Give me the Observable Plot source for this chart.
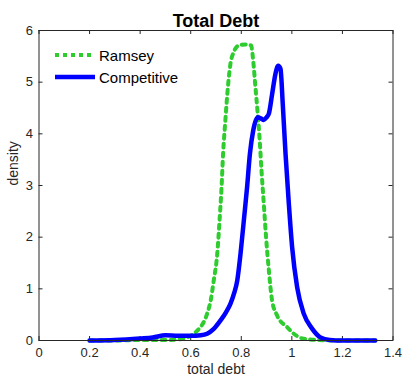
<!DOCTYPE html>
<html>
<head>
<meta charset="utf-8">
<script src="https://cdn.jsdelivr.net/npm/d3@7"></script>
<script src="https://cdn.jsdelivr.net/npm/@observablehq/plot@0.6"></script>
<style>
  html, body { margin: 0; padding: 0; background: #fff; }
  #wrap { position: relative; width: 402px; height: 380px; font-family: "Liberation Sans", Arial, sans-serif; }
  #legend { position: absolute; left: 55px; top: 44px; font-size: 15px; color: #000; }
  .item { display: flex; align-items: center; height: 22px; }
  .item svg { margin-right: 4px; }
</style>
</head>
<body>
<div id="wrap"></div>
<script>
const title = "Total Debt";
const xLabel = "total debt";
const yLabel = "density";
const seriesNames = ["Ramsey", "Competitive"];
const seriesColors = ["#2ecc2e", "#0000ff"];
const xTicks = [0, 0.2, 0.4, 0.6, 0.8, 1, 1.2, 1.4];
const yTicks = [0, 1, 2, 3, 4, 5, 6];

const ramseyX = [0.2, 0.3, 0.4, 0.5, 0.55, 0.58, 0.612, 0.635, 0.652, 0.665, 0.68, 0.691, 0.705, 0.714, 0.722, 0.728, 0.737, 0.747, 0.757, 0.77, 0.79, 0.817, 0.839, 0.847, 0.856, 0.865, 0.872, 0.88, 0.889, 0.898, 0.909, 0.922, 0.942, 0.981, 1.008, 1.041, 1.1, 1.2, 1.33];
const ramseyY = [0, 0, 0.01, 0.01, 0.02, 0.05, 0.13, 0.24, 0.36, 0.52, 0.8, 1.16, 1.68, 2.32, 2.97, 3.61, 4.26, 4.9, 5.35, 5.58, 5.71, 5.73, 5.71, 5.42, 4.9, 4.39, 3.94, 3.29, 2.65, 2.0, 1.36, 0.77, 0.48, 0.26, 0.13, 0.04, 0.01, 0, 0];

const compX = [0.2, 0.3, 0.4, 0.45, 0.5, 0.55, 0.6, 0.64, 0.665, 0.69, 0.718, 0.74, 0.757, 0.772, 0.784, 0.797, 0.81, 0.823, 0.834, 0.847, 0.865, 0.877, 0.889, 0.9, 0.909, 0.922, 0.935, 0.946, 0.955, 0.964, 0.975, 0.988, 1.001, 1.021, 1.047, 1.08, 1.113, 1.15, 1.2, 1.33];
const compY = [0, 0.01, 0.04, 0.06, 0.1, 0.09, 0.09, 0.1, 0.13, 0.22, 0.39, 0.55, 0.71, 0.92, 1.16, 1.68, 2.32, 2.97, 3.61, 4.06, 4.32, 4.3, 4.27, 4.32, 4.39, 4.77, 5.16, 5.32, 5.26, 4.58, 3.61, 2.65, 1.81, 1.03, 0.52, 0.23, 0.06, 0.01, 0, 0];

const ramsey = ramseyX.map((x, i) => ({x, y: ramseyY[i]}));
const comp = compX.map((x, i) => ({x, y: compY[i]}));

const W = 402, H = 380;
const mL = 38.5, mR = 9.5, mT = 30, mB = 40;
const tickLen = 4;
const frameH = H - mT - mB, frameW = W - mL - mR;
const ink = "#262626";

const chart = Plot.plot({
  width: W,
  height: H,
  marginLeft: mL,
  marginRight: mR,
  marginTop: mT,
  marginBottom: mB,
  style: {fontFamily: "'Liberation Sans', Arial, sans-serif", color: ink, background: "#fff"},
  x: {domain: [0, 1.4]},
  y: {domain: [0, 6]},
  marks: [
    Plot.axisX({ticks: xTicks, tickSize: 0, tickPadding: 7, fontSize: 13, tickFormat: d => String(d), label: null}),
    Plot.axisY({ticks: yTicks, tickSize: 0, tickPadding: 6, fontSize: 13, tickFormat: d => String(d), label: null}),
    Plot.tickX(xTicks, {x: d => d, insetTop: frameH - tickLen, stroke: ink}),
    Plot.tickX(xTicks, {x: d => d, insetBottom: frameH - tickLen, stroke: ink}),
    Plot.tickY(yTicks, {y: d => d, insetRight: frameW - tickLen, stroke: ink}),
    Plot.tickY(yTicks, {y: d => d, insetLeft: frameW - tickLen, stroke: ink}),
    Plot.line(ramsey, {x: "x", y: "y", stroke: seriesColors[0], strokeWidth: 4, strokeDasharray: "4,5", curve: "monotone-x"}),
    Plot.line(comp, {x: "x", y: "y", stroke: seriesColors[1], strokeWidth: 4.5, curve: "monotone-x", strokeLinejoin: "round"}),
    Plot.frame({stroke: ink}),
    Plot.text([title], {frameAnchor: "top", dy: -16, fontSize: 18, fontWeight: "bold", fill: "#000"}),
    Plot.text([xLabel], {frameAnchor: "bottom", dy: 33, fontSize: 14, fill: ink}),
    Plot.text([yLabel], {frameAnchor: "left", dx: -25, rotate: -90, fontSize: 14, fill: ink})
  ]
});

const wrap = document.getElementById("wrap");
wrap.appendChild(chart);

const legend = document.createElement("div");
legend.id = "legend";
seriesNames.forEach((name, i) => {
  const item = document.createElement("div");
  item.className = "item";
  const dash = i === 0 ? 'stroke-dasharray="4,4"' : '';
  const sw = i === 0 ? 4 : 4.5;
  item.innerHTML = `<svg width="40" height="10"><line x1="0" x2="${i === 0 ? 37 : 40}" y1="5" y2="5" stroke="${seriesColors[i]}" stroke-width="${sw}" ${dash}/></svg><span>${name}</span>`;
  legend.appendChild(item);
});
wrap.appendChild(legend);
</script>
</body>
</html>
